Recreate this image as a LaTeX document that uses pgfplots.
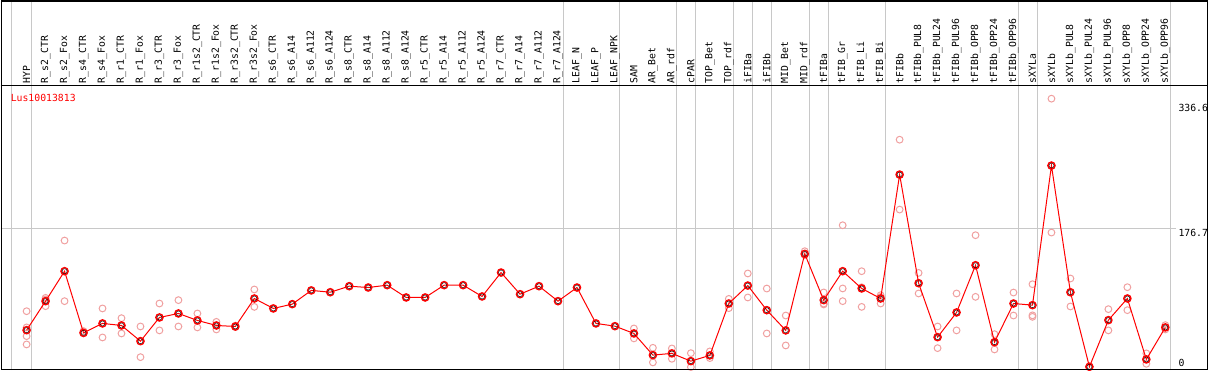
\documentclass[border=0pt]{standalone}
\usepackage{pgfplots}
\pgfplotsset{compat=1.18}
\usepackage{pgfplotstable}
\usepackage{fontspec}
\setmainfont{DejaVu Sans Mono}
\setmonofont{DejaVu Sans Mono}

\definecolor{gridgray}{HTML}{C8C8C8}
\definecolor{repcol}{HTML}{F0A0A0}

\pgfplotstableread{
x y
0 47.1
1 84.1
2 122.3
3 43.7
4 55.7
5 53.1
6 33.1
7 63.3
8 68.4
9 59.5
10 53.1
11 51.8
12 87.5
13 74.8
14 80.3
15 97.8
16 95.5
17 103.2
18 101.5
19 104.5
20 88.8
21 88.8
22 104.5
23 104.5
24 90.1
25 120.6
26 93
27 103.2
28 84.1
29 101.5
30 55.7
31 52.2
32 42.9
33 15.3
34 17.5
35 7.6
36 14.9
37 81.1
38 104
39 72.6
40 46.8
41 144.4
42 85.4
43 122.3
44 100.3
45 87.5
46 245.5
47 107
48 38.2
49 69.7
50 129.9
51 31.8
52 81.1
53 79
54 257
55 95.5
56 0.4
57 59.9
58 87.5
59 9.8
60 50.6
}\means

\pgfplotstableread{
x y
0 71.3
0 50.6
0 39.5
0 28.9
1 88.3
1 77.7
1 86.3
2 161.4
2 84.1
3 45.9
3 42.9
4 74.8
4 37.8
5 62.4
5 42.9
6 51.8
6 12.7
7 81.1
7 46.8
8 85.4
8 51.8
9 68.4
9 50.6
10 57.7
10 48
11 52.9
11 51
12 99
12 76.8
32 49.3
32 36.6
32 43.3
33 24.6
33 6
34 23.8
34 10.6
35 17.8
35 0
36 20
36 11.5
37 87
37 75.2
38 119.4
38 88.8
39 100.2
39 42.9
40 65.8
40 27.6
41 147.8
41 142.7
42 95.2
42 81
42 79.9
43 180.9
43 100.3
43 84.1
44 122.3
44 76.8
44 101.8
45 91.7
45 81.1
45 89.5
46 290
46 200.9
47 120.1
47 93.9
48 51.8
48 24.2
49 93.9
49 46.8
50 168.2
50 89.6
51 42
51 22.5
52 95.1
52 65.8
53 105.7
53 64.1
53 66
54 342.3
54 171.6
55 113
55 77.3
56 0.4
56 0.4
57 73.9
57 46.8
58 101.9
58 72.6
59 17.5
59 4.2
60 53.5
60 48
}\reps

\tikzset{lbl/.style={rotate=90, anchor=west, inner sep=0pt, font=\fontsize{9.8bp}{11bp}\selectfont}}

\begin{document}
\begin{tikzpicture}
\begin{axis}[
  scale only axis, width=1209bp, height=370bp,
  xmin=-1.36842, xmax=62.26316, ymin=-3.8217, ymax=467.516,
  axis lines=none, xtick=\empty, ytick=\empty,
  clip mode=individual,
]
% vertical group separators
\pgfplotsinvokeforeach{-0.79,0.263,28.263,31.263,34.263,35.263,37.263,38.263,39.263,41.263,42.263,45.263,52.263,53.263,60.263}{
  \draw[gridgray, line width=1bp] (axis cs:#1,-3.8217) -- (axis cs:#1,467.516);
}
% horizontal grid line
\draw[gridgray, line width=1bp] (axis cs:-1.37,176.7) -- (axis cs:60.58,176.7);
% header separator
\draw[black, line width=1.2bp] (axis cs:-1.37,359.2) -- (axis cs:62.27,359.2);

% category labels
\foreach \lab [count=\i from 0] in {HYP,R\_s2\_CTR,R\_s2\_Fox,R\_s4\_CTR,R\_s4\_Fox,R\_r1\_CTR,R\_r1\_Fox,R\_r3\_CTR,R\_r3\_Fox,R\_r1s2\_CTR,R\_r1s2\_Fox,R\_r3s2\_CTR,R\_r3s2\_Fox,R\_s6\_CTR,R\_s6\_A14,R\_s6\_A112,R\_s6\_A124,R\_s8\_CTR,R\_s8\_A14,R\_s8\_A112,R\_s8\_A124,R\_r5\_CTR,R\_r5\_A14,R\_r5\_A112,R\_r5\_A124,R\_r7\_CTR,R\_r7\_A14,R\_r7\_A112,R\_r7\_A124,LEAF\_N,LEAF\_P,LEAF\_NPK,SAM,AR\_Bet,AR\_rdf,cPAR,TOP\_Bet,TOP\_rdf,iFIBa,iFIBb,MID\_Bet,MID\_rdf,tFIBa,tFIB\_Gr,tFIB\_Li,tFIB\_Bi,tFIBb,tFIBb\_PUL8,tFIBb\_PUL24,tFIBb\_PUL96,tFIBb\_OPP8,tFIBb\_OPP24,tFIBb\_OPP96,sXYLa,sXYLb,sXYLb\_PUL8,sXYLb\_PUL24,sXYLb\_PUL96,sXYLb\_OPP8,sXYLb\_OPP24,sXYLb\_OPP96}{
  \edef\tmp{\noexpand\node[lbl] at (axis cs:\i,361.8) {\unexpanded\expandafter{\lab}};}\tmp
}

% title and value labels
\node[anchor=north west, inner sep=0pt, text=red, font=\fontsize{9.8bp}{11bp}\selectfont] at (axis cs:-0.842,348.7) {Lus10013813};
\node[anchor=north west, inner sep=0pt, font=\fontsize{9.8bp}{11bp}\selectfont] at (axis cs:60.684,335.0) {336.6};
\node[anchor=north west, inner sep=0pt, font=\fontsize{9.8bp}{11bp}\selectfont] at (axis cs:60.684,176.7) {176.7};
\node[anchor=north west, inner sep=0pt, font=\fontsize{9.8bp}{11bp}\selectfont] at (axis cs:60.684,10.2) {0};

% replicates
\addplot[only marks, mark=o, mark size=3.4bp, mark options={repcol, line width=1bp}] table {\reps};
% means
\addplot[red, line width=1bp, mark=o, mark size=3.6bp, mark options={red, line width=1.4bp}] table {\means};
\addplot[only marks, mark=o, mark size=2.5bp, mark options={black, line width=0.4bp}] table {\means};

% frame
\draw[black, line width=1.2bp] ([xshift=0.6bp,yshift=0.6bp]rel axis cs:0,0) rectangle ([xshift=-0.6bp,yshift=-0.6bp]rel axis cs:1,1);
\end{axis}
\end{tikzpicture}
\end{document}
